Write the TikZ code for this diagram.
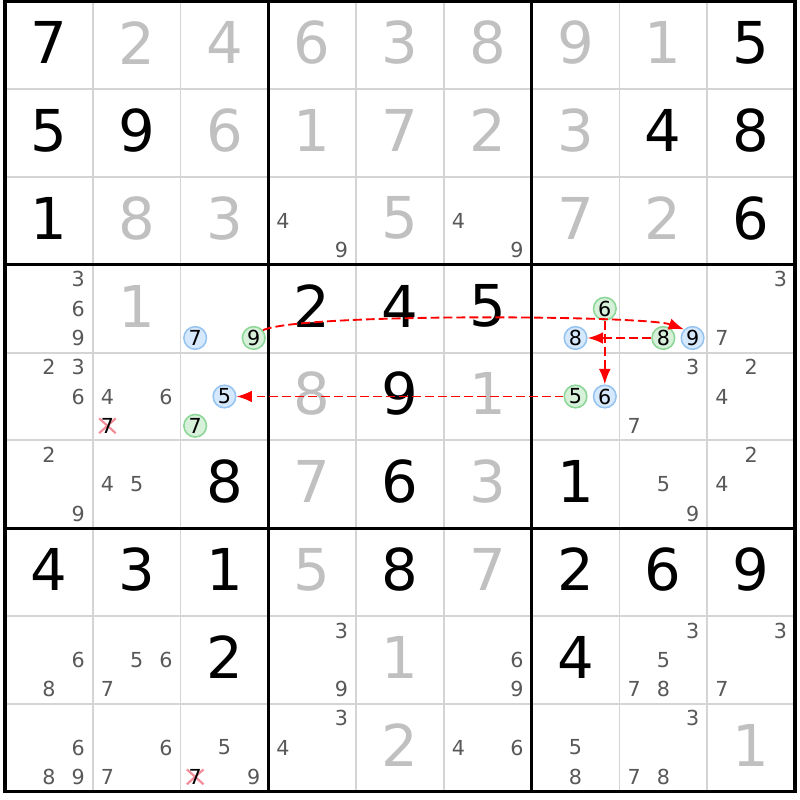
\documentclass[tikz,border=0pt]{standalone}
\usepackage{fontspec}
\setmainfont{DejaVu Sans}
\usetikzlibrary{arrows.meta}

\definecolor{solvedgray}{RGB}{192,192,192}
\definecolor{candgray}{RGB}{88,88,88}
\definecolor{gridgray}{RGB}{212,212,212}
\definecolor{bluefill}{RGB}{214,232,252}
\definecolor{blueline}{RGB}{150,196,240}
\definecolor{greenfill}{RGB}{214,240,218}
\definecolor{greenline}{RGB}{140,214,150}
\definecolor{strikered}{RGB}{242,140,150}

\begin{document}
\begin{tikzpicture}[
  given/.style={inner sep=0pt, font=\fontsize{18.7}{20}\selectfont},
  solved/.style={given, text=solvedgray},
  cand/.style={inner sep=0pt, font=\fontsize{6.7}{8}\selectfont, text=candgray},
  blueon/.style={cand, text=black, circle, minimum size=0.258cm, line width=0.5pt, draw=blueline, fill=bluefill},
  greenon/.style={blueon, draw=greenline, fill=greenfill},
  link/.style={red, line width=0.6pt, dash pattern=on 2.9pt off 1.3pt, -{Latex[length=5pt,width=3.8pt]}},
  strike/.style={strikered, line width=0.7pt}]

\useasboundingbox (-0.057,0.017) rectangle (9.057,-9.097);

% grid
\foreach \i in {1,2,4,5,7,8} {
  \draw[gridgray, line width=0.6pt] (\i,0) -- (\i,-9);
  \draw[gridgray, line width=0.6pt] (0,-\i) -- (9,-\i);
}
\foreach \i in {3,6} {
  \draw[line width=1pt] (\i,0) -- (\i,-9);
  \draw[line width=1pt] (0,-\i) -- (9,-\i);
}
\draw[line width=1pt] (0,0) rectangle (9,-9);

% givens
\foreach \c/\r/\d in {1/1/7, 9/1/5, 1/2/5, 2/2/9, 8/2/4, 9/2/8, 1/3/1, 9/3/6,
    4/4/2, 5/4/4, 6/4/5, 5/5/9, 3/6/8, 5/6/6, 7/6/1,
    1/7/4, 2/7/3, 3/7/1, 5/7/8, 7/7/2, 8/7/6, 9/7/9, 3/8/2, 7/8/4}
  \node[given] (g\c\r) at (\c-0.5, 0.53-\r) {\d};

% solved
\foreach \c/\r/\d in {2/1/2, 3/1/4, 4/1/6, 5/1/3, 6/1/8, 7/1/9, 8/1/1,
    3/2/6, 4/2/1, 5/2/7, 6/2/2, 7/2/3, 2/3/8, 3/3/3, 5/3/5, 7/3/7, 8/3/2,
    2/4/1, 4/5/8, 6/5/1, 4/6/7, 6/6/3, 4/7/5, 6/7/7, 5/8/1, 5/9/2, 9/9/1}
  \node[solved] (s\c\r) at (\c-0.5, 0.53-\r) {\d};

% candidates
\foreach \c/\r/\l in {4/3/{4,9}, 6/3/{4,9}, 1/4/{3,6,9}, 9/4/{3,7},
    1/5/{2,3,6}, 2/5/{4,6}, 8/5/{3,7}, 9/5/{2,4},
    1/6/{2,9}, 2/6/{4,5}, 8/6/{5,9}, 9/6/{2,4},
    1/8/{6,8}, 2/8/{5,6,7}, 4/8/{3,9}, 6/8/{6,9}, 8/8/{3,5,7,8}, 9/8/{3,7},
    1/9/{6,8,9}, 2/9/{6,7}, 3/9/{5,9}, 4/9/{3,4}, 6/9/{4,6}, 7/9/{5,8}, 8/9/{3,7,8}}
  \foreach \d in \l
    \node[cand] (k\c\r\d) at ({\c-1+(2*mod(\d-1,3)+1)/6}, {1-\r-(2*int((\d-1)/3)+1)/6}) {\d};

% eliminated
\coordinate (x527) at (1.1667,-4.8333);
\coordinate (x937) at (2.1667,-8.8333);
\foreach \p in {x527,x937} {
  \draw[strike] (\p) +(-0.095,-0.085) -- +(0.095,0.085);
  \draw[strike] (\p) +(-0.095,0.085) -- +(0.095,-0.085);
}
\node[cand, text=black] (k527) at (x527) {7};
\node[cand, text=black] (k937) at (x937) {7};

% chain
\node[blueon] (on437) at (2.1667,-3.8333) {7};
\node[greenon] (on439) at (2.8333,-3.8333) {9};
\node[greenon] (on476) at (6.8333,-3.5) {6};
\node[blueon] (on478) at (6.5,-3.8333) {8};
\node[greenon] (on488) at (7.5,-3.8333) {8};
\node[blueon] (on489) at (7.8333,-3.8333) {9};
\node[blueon] (on535) at (2.5,-4.5) {5};
\node[greenon] (on537) at (2.1667,-4.8333) {7};
\node[greenon] (on575) at (6.5,-4.5) {5};
\node[blueon] (on576) at (6.8333,-4.5) {6};

\draw[link] (on439.40) to[out=25, in=160, looseness=0.25] (on489.135);
\draw[link] (on488) -- (on478);
\draw[link] (on476) -- (on576);
\draw[link] (on575) -- (on535);

\end{tikzpicture}
\end{document}
